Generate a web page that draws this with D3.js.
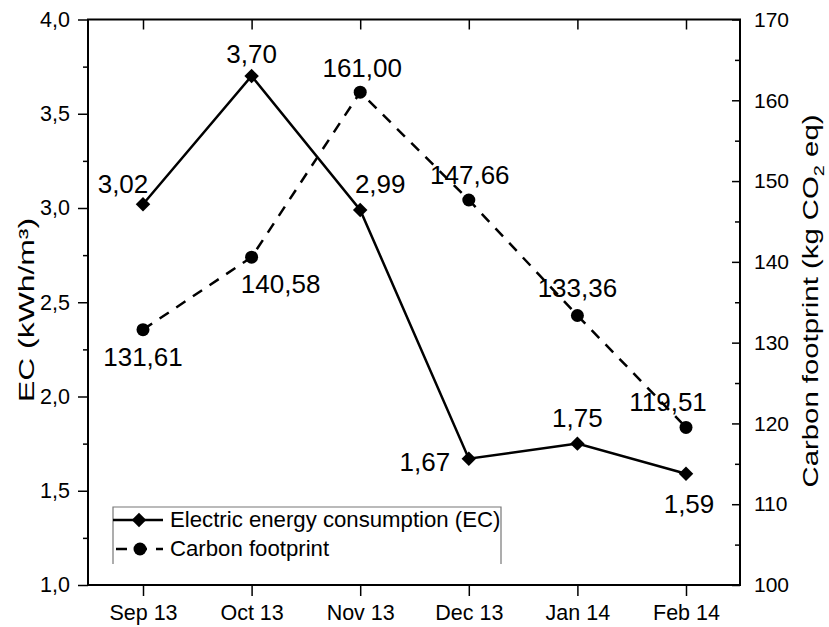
<!DOCTYPE html>
<html><head><meta charset="utf-8">
<script src="https://cdn.jsdelivr.net/npm/d3@7"></script>
<style>body{margin:0;background:#fff}text{font-family:"Liberation Sans",Arial,sans-serif;fill:#000}</style>
</head><body><svg id="c" width="829" height="627"></svg>
<script>
const months = ["Sep 13","Oct 13","Nov 13","Dec 13","Jan 14","Feb 14"];
const ecValues = [3.02, 3.70, 2.99, 1.67, 1.75, 1.59];
const cfValues = [131.61, 140.58, 161.00, 147.66, 133.36, 119.51];
const ecTicks = [1.0, 1.5, 2.0, 2.5, 3.0, 3.5, 4.0];
const cfTicks = [100, 110, 120, 130, 140, 150, 160, 170];
const seriesNames = ["Electric energy consumption (EC)", "Carbon footprint"];
// label offsets (layout only)
const ecLabelOff = [[-20,-11],[0,-13],[20,-17],[-44,12],[0,-17],[3,39]];
const cfLabelOff = [[0,36],[29,36],[2,-15],[1,-16],[0,-18],[-18,-16]];

const svg = d3.select("#c");
const L=88, R=740, T=19.5, B=585;
const x = d3.scalePoint().domain(months).range([143,686]);
const yL = d3.scaleLinear().domain([1,4]).range([B,T]);
const yR = d3.scaleLinear().domain([100,170]).range([B,T]);
const fmt1 = d => d.toFixed(1).replace(".", ",");
const fmt2 = d => d.toFixed(2).replace(".", ",");

// frame
svg.append("rect").attr("x",L).attr("y",T).attr("width",R-L).attr("height",B-T)
  .attr("fill","none").attr("stroke","#000").attr("stroke-width",2);

// left axis
const minorL = d3.range(1.25,4,0.5);
svg.append("g").attr("transform",`translate(${L},0)`)
  .call(d3.axisLeft(yL).tickValues(minorL).tickSize(5).tickFormat(""))
  .call(g=>g.select(".domain").remove()).selectAll("line").attr("stroke-width",1.5);
const gl = svg.append("g").attr("transform",`translate(${L},0)`)
  .call(d3.axisLeft(yL).tickValues(ecTicks).tickSize(10).tickPadding(8).tickFormat(fmt1));
gl.select(".domain").remove();
gl.selectAll("line").attr("stroke-width",1.5);
gl.selectAll("text").style("font-size","21.5px").attr("font-family",null);

// right axis
const minorR = d3.range(105,170,10);
svg.append("g").attr("transform",`translate(${R},0)`)
  .call(d3.axisLeft(yR).tickValues(minorR).tickSize(5).tickFormat(""))
  .call(g=>g.select(".domain").remove()).selectAll("line").attr("stroke-width",1.5);
const gr = svg.append("g").attr("transform",`translate(${R},0)`)
  .call(d3.axisRight(yR).tickValues(cfTicks).tickSize(0).tickPadding(14).tickFormat(d3.format("d")));
gr.select(".domain").remove();
gr.selectAll("text").style("font-size","21px").attr("font-family",null);
svg.append("g").attr("transform",`translate(${R},0)`)
  .call(d3.axisLeft(yR).tickValues(cfTicks).tickSize(8).tickFormat(""))
  .call(g=>g.select(".domain").remove()).selectAll("line").attr("stroke-width",1.5);

// bottom axis
const gb = svg.append("g").attr("transform",`translate(0,${B})`)
  .call(d3.axisBottom(x).tickSize(11).tickPadding(9));
gb.select(".domain").remove();
gb.selectAll("line").attr("stroke-width",1.5);
gb.selectAll("text").style("font-size","21.5px").attr("font-family",null);
// top mirror ticks
const gt = svg.append("g").attr("transform",`translate(0,${T})`)
  .call(d3.axisBottom(x).tickSize(10).tickFormat(""));
gt.select(".domain").remove();
gt.selectAll("line").attr("stroke-width",1.5);

// axis titles
svg.append("text").attr("transform","translate(34,310) rotate(-90)").attr("text-anchor","middle")
  .style("font-size","22px").attr("textLength",184).attr("lengthAdjust","spacingAndGlyphs").text('EC (kWh/m³)');
const rt = svg.append("text").attr("transform","translate(818,301) rotate(-90)").attr("text-anchor","middle")
  .style("font-size","22px").attr("textLength",373).attr("lengthAdjust","spacingAndGlyphs");
rt.append("tspan").text("Carbon footprint (kg CO");
rt.append("tspan").attr("font-size","15px").attr("dy",6).text("2");
rt.append("tspan").attr("dy",-6).text(" eq)");

// lines
const lineEC = d3.line().x((d,i)=>x(months[i])).y(d=>yL(d));
const lineCF = d3.line().x((d,i)=>x(months[i])).y(d=>yR(d));
svg.append("path").datum(cfValues).attr("d",lineCF).attr("fill","none").attr("stroke","#000")
  .attr("stroke-width",2.5).attr("stroke-dasharray","11,9");
svg.append("path").datum(ecValues).attr("d",lineEC).attr("fill","none").attr("stroke","#000")
  .attr("stroke-width",2.5);
svg.selectAll(".ecm").data(ecValues).join("path")
  .attr("transform",(d,i)=>`translate(${x(months[i])},${yL(d)}) rotate(45)`)
  .attr("d",d3.symbol().type(d3.symbolSquare).size(105)).attr("fill","#000");
svg.selectAll(".cfm").data(cfValues).join("circle")
  .attr("cx",(d,i)=>x(months[i])).attr("cy",d=>yR(d)).attr("r",6.5).attr("fill","#000");

// data labels
svg.selectAll(".ecl").data(ecValues).join("text")
  .attr("x",(d,i)=>x(months[i])+ecLabelOff[i][0]).attr("y",(d,i)=>yL(d)+ecLabelOff[i][1])
  .attr("text-anchor","middle").style("font-size","26px").text(fmt2);
svg.selectAll(".cfl").data(cfValues).join("text")
  .attr("x",(d,i)=>x(months[i])+cfLabelOff[i][0]).attr("y",(d,i)=>yR(d)+cfLabelOff[i][1])
  .attr("text-anchor","middle").style("font-size","26px").text(fmt2);

// legend
const lg = svg.append("g");
lg.append("path").attr("d","M113,564 V507 H501 V564").attr("fill","none").attr("stroke","#777").attr("stroke-width",1.2);
lg.append("line").attr("x1",113).attr("x2",163).attr("y1",520).attr("y2",520).attr("stroke","#000").attr("stroke-width",2.5);
lg.append("path").attr("transform","translate(139,520) rotate(45)").attr("d",d3.symbol().type(d3.symbolSquare).size(105)).attr("fill","#000");
lg.append("line").attr("x1",113).attr("x2",163).attr("y1",549).attr("y2",549).attr("stroke","#000").attr("stroke-width",2.5).attr("stroke-dasharray","11,9").attr("stroke-dashoffset",-3);
lg.append("circle").attr("cx",140).attr("cy",549).attr("r",6.5).attr("fill","#000");
lg.selectAll(".lt").data(seriesNames).join("text").attr("x",170).attr("y",(d,i)=>527+i*29)
  .style("font-size","22.2px").text(d=>d);
</script></body></html>
